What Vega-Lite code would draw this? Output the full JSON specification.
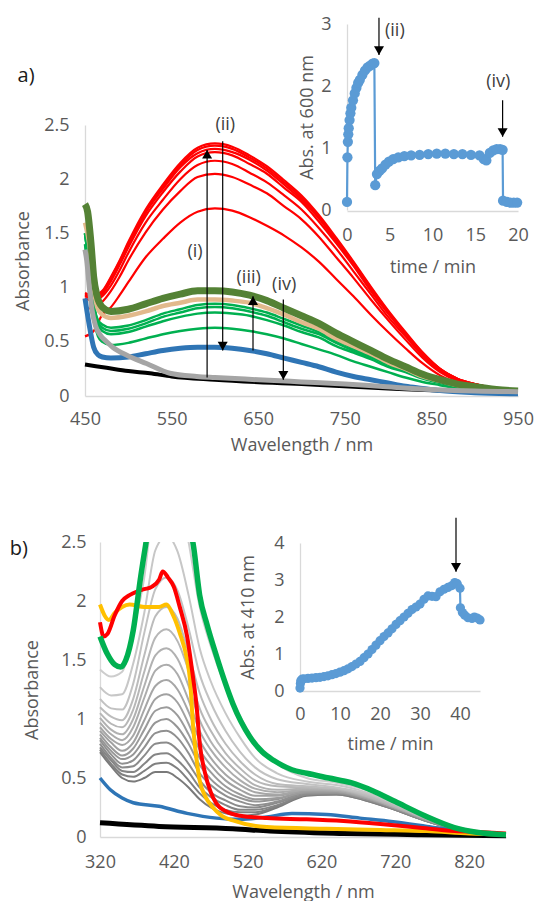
{
"$schema":"https://vega.github.io/schema/vega-lite/v6.json",
"padding":0,
"spacing":0,
"bounds":"flush",
"config":{
 "view":{"stroke":null},
 "font":"Open Sans",
 "axis":{"grid":false,"ticks":false,"tickSize":0,"domainColor":"#D9D9D9","domainWidth":1.3,"labelColor":"#595959","labelFontSize":18,"labelFont":"Open Sans","titleColor":"#595959","titleFontSize":18,"titleFont":"Open Sans","titleFontWeight":"normal","labelFlush":false,"labelOverlap":false}
},
"datasets":{
"a":[
{"s":"r1","w":450,"a":0.55},{"s":"r1","w":460,"a":0.6},{"s":"r1","w":470,"a":0.75},{"s":"r1","w":480,"a":0.82},{"s":"r1","w":490,"a":0.93},{"s":"r1","w":500,"a":1.05},{"s":"r1","w":520,"a":1.28},{"s":"r1","w":540,"a":1.45},{"s":"r1","w":560,"a":1.6},{"s":"r1","w":580,"a":1.7},{"s":"r1","w":600,"a":1.73},{"s":"r1","w":620,"a":1.71},{"s":"r1","w":640,"a":1.65},{"s":"r1","w":660,"a":1.57},{"s":"r1","w":680,"a":1.48},{"s":"r1","w":700,"a":1.37},{"s":"r1","w":720,"a":1.24},{"s":"r1","w":740,"a":1.08},{"s":"r1","w":760,"a":0.92},{"s":"r1","w":780,"a":0.75},{"s":"r1","w":800,"a":0.59},{"s":"r1","w":820,"a":0.44},{"s":"r1","w":840,"a":0.3},{"s":"r1","w":860,"a":0.19},{"s":"r1","w":880,"a":0.12},{"s":"r1","w":900,"a":0.08},{"s":"r1","w":925,"a":0.05},{"s":"r1","w":950,"a":0.04},
{"s":"r2","w":450,"a":0.8},{"s":"r2","w":460,"a":0.82},{"s":"r2","w":470,"a":0.87},{"s":"r2","w":480,"a":0.97},{"s":"r2","w":490,"a":1.1},{"s":"r2","w":500,"a":1.25},{"s":"r2","w":520,"a":1.51},{"s":"r2","w":540,"a":1.72},{"s":"r2","w":560,"a":1.89},{"s":"r2","w":580,"a":2.02},{"s":"r2","w":600,"a":2.05},{"s":"r2","w":620,"a":2.02},{"s":"r2","w":640,"a":1.95},{"s":"r2","w":660,"a":1.87},{"s":"r2","w":680,"a":1.75},{"s":"r2","w":700,"a":1.63},{"s":"r2","w":720,"a":1.47},{"s":"r2","w":740,"a":1.28},{"s":"r2","w":760,"a":1.09},{"s":"r2","w":780,"a":0.89},{"s":"r2","w":800,"a":0.7},{"s":"r2","w":820,"a":0.52},{"s":"r2","w":840,"a":0.35},{"s":"r2","w":860,"a":0.22},{"s":"r2","w":880,"a":0.14},{"s":"r2","w":900,"a":0.1},{"s":"r2","w":925,"a":0.06},{"s":"r2","w":950,"a":0.05},
{"s":"r3","w":450,"a":0.9},{"s":"r3","w":460,"a":0.88},{"s":"r3","w":470,"a":0.92},{"s":"r3","w":480,"a":1.02},{"s":"r3","w":490,"a":1.16},{"s":"r3","w":500,"a":1.32},{"s":"r3","w":520,"a":1.6},{"s":"r3","w":540,"a":1.81},{"s":"r3","w":560,"a":2.0},{"s":"r3","w":580,"a":2.13},{"s":"r3","w":600,"a":2.17},{"s":"r3","w":620,"a":2.14},{"s":"r3","w":640,"a":2.06},{"s":"r3","w":660,"a":1.97},{"s":"r3","w":680,"a":1.85},{"s":"r3","w":700,"a":1.72},{"s":"r3","w":720,"a":1.55},{"s":"r3","w":740,"a":1.36},{"s":"r3","w":760,"a":1.15},{"s":"r3","w":780,"a":0.94},{"s":"r3","w":800,"a":0.73},{"s":"r3","w":820,"a":0.55},{"s":"r3","w":840,"a":0.37},{"s":"r3","w":860,"a":0.23},{"s":"r3","w":880,"a":0.15},{"s":"r3","w":900,"a":0.1},{"s":"r3","w":925,"a":0.065},{"s":"r3","w":950,"a":0.05},
{"s":"r4","w":450,"a":0.92},{"s":"r4","w":460,"a":0.9},{"s":"r4","w":470,"a":0.94},{"s":"r4","w":480,"a":1.06},{"s":"r4","w":490,"a":1.21},{"s":"r4","w":500,"a":1.37},{"s":"r4","w":520,"a":1.66},{"s":"r4","w":540,"a":1.88},{"s":"r4","w":560,"a":2.07},{"s":"r4","w":580,"a":2.21},{"s":"r4","w":600,"a":2.25},{"s":"r4","w":620,"a":2.22},{"s":"r4","w":640,"a":2.14},{"s":"r4","w":660,"a":2.05},{"s":"r4","w":680,"a":1.92},{"s":"r4","w":700,"a":1.79},{"s":"r4","w":720,"a":1.61},{"s":"r4","w":740,"a":1.41},{"s":"r4","w":760,"a":1.2},{"s":"r4","w":780,"a":0.97},{"s":"r4","w":800,"a":0.76},{"s":"r4","w":820,"a":0.57},{"s":"r4","w":840,"a":0.39},{"s":"r4","w":860,"a":0.24},{"s":"r4","w":880,"a":0.15},{"s":"r4","w":900,"a":0.11},{"s":"r4","w":925,"a":0.07},{"s":"r4","w":950,"a":0.053},
{"s":"r5","w":450,"a":0.93},{"s":"r5","w":460,"a":0.91},{"s":"r5","w":470,"a":0.95},{"s":"r5","w":480,"a":1.08},{"s":"r5","w":490,"a":1.23},{"s":"r5","w":500,"a":1.39},{"s":"r5","w":520,"a":1.69},{"s":"r5","w":540,"a":1.91},{"s":"r5","w":560,"a":2.11},{"s":"r5","w":580,"a":2.24},{"s":"r5","w":600,"a":2.28},{"s":"r5","w":620,"a":2.25},{"s":"r5","w":640,"a":2.18},{"s":"r5","w":660,"a":2.08},{"s":"r5","w":680,"a":1.95},{"s":"r5","w":700,"a":1.81},{"s":"r5","w":720,"a":1.64},{"s":"r5","w":740,"a":1.43},{"s":"r5","w":760,"a":1.22},{"s":"r5","w":780,"a":0.99},{"s":"r5","w":800,"a":0.77},{"s":"r5","w":820,"a":0.58},{"s":"r5","w":840,"a":0.39},{"s":"r5","w":860,"a":0.25},{"s":"r5","w":880,"a":0.16},{"s":"r5","w":900,"a":0.11},{"s":"r5","w":925,"a":0.07},{"s":"r5","w":950,"a":0.054},
{"s":"r6","w":450,"a":0.94},{"s":"r6","w":460,"a":0.92},{"s":"r6","w":470,"a":0.96},{"s":"r6","w":480,"a":1.09},{"s":"r6","w":490,"a":1.24},{"s":"r6","w":500,"a":1.41},{"s":"r6","w":520,"a":1.7},{"s":"r6","w":540,"a":1.93},{"s":"r6","w":560,"a":2.13},{"s":"r6","w":580,"a":2.27},{"s":"r6","w":600,"a":2.31},{"s":"r6","w":620,"a":2.28},{"s":"r6","w":640,"a":2.2},{"s":"r6","w":660,"a":2.1},{"s":"r6","w":680,"a":1.97},{"s":"r6","w":700,"a":1.83},{"s":"r6","w":720,"a":1.65},{"s":"r6","w":740,"a":1.45},{"s":"r6","w":760,"a":1.23},{"s":"r6","w":780,"a":1.0},{"s":"r6","w":800,"a":0.78},{"s":"r6","w":820,"a":0.58},{"s":"r6","w":840,"a":0.4},{"s":"r6","w":860,"a":0.25},{"s":"r6","w":880,"a":0.16},{"s":"r6","w":900,"a":0.11},{"s":"r6","w":925,"a":0.07},{"s":"r6","w":950,"a":0.054},
{"s":"r7","w":450,"a":0.95},{"s":"r7","w":460,"a":0.93},{"s":"r7","w":470,"a":0.97},{"s":"r7","w":480,"a":1.1},{"s":"r7","w":490,"a":1.25},{"s":"r7","w":500,"a":1.42},{"s":"r7","w":520,"a":1.72},{"s":"r7","w":540,"a":1.95},{"s":"r7","w":560,"a":2.15},{"s":"r7","w":580,"a":2.29},{"s":"r7","w":600,"a":2.33},{"s":"r7","w":620,"a":2.3},{"s":"r7","w":640,"a":2.22},{"s":"r7","w":660,"a":2.12},{"s":"r7","w":680,"a":1.99},{"s":"r7","w":700,"a":1.85},{"s":"r7","w":720,"a":1.67},{"s":"r7","w":740,"a":1.46},{"s":"r7","w":760,"a":1.24},{"s":"r7","w":780,"a":1.01},{"s":"r7","w":800,"a":0.79},{"s":"r7","w":820,"a":0.59},{"s":"r7","w":840,"a":0.4},{"s":"r7","w":860,"a":0.25},{"s":"r7","w":880,"a":0.16},{"s":"r7","w":900,"a":0.11},{"s":"r7","w":925,"a":0.07},{"s":"r7","w":950,"a":0.055},
{"s":"k","w":450,"a":0.29},{"s":"k","w":475,"a":0.26},{"s":"k","w":500,"a":0.23},{"s":"k","w":525,"a":0.21},{"s":"k","w":550,"a":0.18},{"s":"k","w":600,"a":0.15},{"s":"k","w":700,"a":0.11},{"s":"k","w":800,"a":0.07},{"s":"k","w":950,"a":0.03},
{"s":"g4","w":450,"a":1.4},{"s":"g4","w":455,"a":1.0},{"s":"g4","w":460,"a":0.7},{"s":"g4","w":465,"a":0.55},{"s":"g4","w":470,"a":0.5},{"s":"g4","w":480,"a":0.47},{"s":"g4","w":500,"a":0.49},{"s":"g4","w":520,"a":0.53},{"s":"g4","w":540,"a":0.57},{"s":"g4","w":560,"a":0.6},{"s":"g4","w":580,"a":0.62},{"s":"g4","w":600,"a":0.63},{"s":"g4","w":620,"a":0.62},{"s":"g4","w":640,"a":0.6},{"s":"g4","w":660,"a":0.57},{"s":"g4","w":680,"a":0.53},{"s":"g4","w":700,"a":0.48},{"s":"g4","w":720,"a":0.43},{"s":"g4","w":740,"a":0.38},{"s":"g4","w":760,"a":0.32},{"s":"g4","w":780,"a":0.27},{"s":"g4","w":800,"a":0.22},{"s":"g4","w":820,"a":0.17},{"s":"g4","w":840,"a":0.13},{"s":"g4","w":860,"a":0.1},{"s":"g4","w":880,"a":0.07},{"s":"g4","w":900,"a":0.055},{"s":"g4","w":925,"a":0.04},{"s":"g4","w":950,"a":0.03},
{"s":"g3","w":450,"a":1.5},{"s":"g3","w":455,"a":1.2},{"s":"g3","w":460,"a":0.85},{"s":"g3","w":465,"a":0.66},{"s":"g3","w":470,"a":0.6},{"s":"g3","w":480,"a":0.57},{"s":"g3","w":500,"a":0.59},{"s":"g3","w":520,"a":0.64},{"s":"g3","w":540,"a":0.69},{"s":"g3","w":560,"a":0.73},{"s":"g3","w":580,"a":0.76},{"s":"g3","w":600,"a":0.77},{"s":"g3","w":620,"a":0.76},{"s":"g3","w":640,"a":0.74},{"s":"g3","w":660,"a":0.7},{"s":"g3","w":680,"a":0.65},{"s":"g3","w":700,"a":0.59},{"s":"g3","w":720,"a":0.54},{"s":"g3","w":740,"a":0.46},{"s":"g3","w":760,"a":0.4},{"s":"g3","w":780,"a":0.34},{"s":"g3","w":800,"a":0.27},{"s":"g3","w":820,"a":0.22},{"s":"g3","w":840,"a":0.16},{"s":"g3","w":860,"a":0.12},{"s":"g3","w":880,"a":0.09},{"s":"g3","w":900,"a":0.07},{"s":"g3","w":925,"a":0.045},{"s":"g3","w":950,"a":0.035},
{"s":"g2","w":450,"a":1.5},{"s":"g2","w":455,"a":1.2},{"s":"g2","w":460,"a":0.85},{"s":"g2","w":465,"a":0.68},{"s":"g2","w":470,"a":0.63},{"s":"g2","w":480,"a":0.6},{"s":"g2","w":500,"a":0.62},{"s":"g2","w":520,"a":0.67},{"s":"g2","w":540,"a":0.73},{"s":"g2","w":560,"a":0.77},{"s":"g2","w":580,"a":0.81},{"s":"g2","w":600,"a":0.82},{"s":"g2","w":620,"a":0.81},{"s":"g2","w":640,"a":0.78},{"s":"g2","w":660,"a":0.74},{"s":"g2","w":680,"a":0.68},{"s":"g2","w":700,"a":0.62},{"s":"g2","w":720,"a":0.57},{"s":"g2","w":740,"a":0.49},{"s":"g2","w":760,"a":0.42},{"s":"g2","w":780,"a":0.36},{"s":"g2","w":800,"a":0.29},{"s":"g2","w":820,"a":0.23},{"s":"g2","w":840,"a":0.17},{"s":"g2","w":860,"a":0.125},{"s":"g2","w":880,"a":0.095},{"s":"g2","w":900,"a":0.07},{"s":"g2","w":925,"a":0.05},{"s":"g2","w":950,"a":0.04},
{"s":"g1","w":450,"a":1.5},{"s":"g1","w":455,"a":1.2},{"s":"g1","w":460,"a":0.85},{"s":"g1","w":465,"a":0.7},{"s":"g1","w":470,"a":0.66},{"s":"g1","w":480,"a":0.63},{"s":"g1","w":500,"a":0.65},{"s":"g1","w":520,"a":0.7},{"s":"g1","w":540,"a":0.76},{"s":"g1","w":560,"a":0.8},{"s":"g1","w":580,"a":0.84},{"s":"g1","w":600,"a":0.85},{"s":"g1","w":620,"a":0.84},{"s":"g1","w":640,"a":0.81},{"s":"g1","w":660,"a":0.77},{"s":"g1","w":680,"a":0.71},{"s":"g1","w":700,"a":0.65},{"s":"g1","w":720,"a":0.59},{"s":"g1","w":740,"a":0.51},{"s":"g1","w":760,"a":0.44},{"s":"g1","w":780,"a":0.37},{"s":"g1","w":800,"a":0.3},{"s":"g1","w":820,"a":0.24},{"s":"g1","w":840,"a":0.18},{"s":"g1","w":860,"a":0.13},{"s":"g1","w":880,"a":0.1},{"s":"g1","w":900,"a":0.075},{"s":"g1","w":925,"a":0.05},{"s":"g1","w":950,"a":0.04},
{"s":"t","w":450,"a":1.6},{"s":"t","w":455,"a":1.4},{"s":"t","w":460,"a":1.0},{"s":"t","w":465,"a":0.8},{"s":"t","w":470,"a":0.75},{"s":"t","w":480,"a":0.72},{"s":"t","w":500,"a":0.74},{"s":"t","w":520,"a":0.78},{"s":"t","w":540,"a":0.83},{"s":"t","w":560,"a":0.86},{"s":"t","w":580,"a":0.89},{"s":"t","w":600,"a":0.89},{"s":"t","w":620,"a":0.88},{"s":"t","w":640,"a":0.86},{"s":"t","w":660,"a":0.81},{"s":"t","w":680,"a":0.75},{"s":"t","w":700,"a":0.68},{"s":"t","w":720,"a":0.62},{"s":"t","w":740,"a":0.53},{"s":"t","w":760,"a":0.46},{"s":"t","w":780,"a":0.39},{"s":"t","w":800,"a":0.31},{"s":"t","w":820,"a":0.25},{"s":"t","w":840,"a":0.18},{"s":"t","w":860,"a":0.14},{"s":"t","w":880,"a":0.1},{"s":"t","w":900,"a":0.08},{"s":"t","w":925,"a":0.055},{"s":"t","w":950,"a":0.04},
{"s":"d","w":450,"a":1.77},{"s":"d","w":453,"a":1.7},{"s":"d","w":457,"a":1.4},{"s":"d","w":460,"a":1.1},{"s":"d","w":464,"a":0.92},{"s":"d","w":470,"a":0.82},{"s":"d","w":480,"a":0.78},{"s":"d","w":500,"a":0.8},{"s":"d","w":520,"a":0.85},{"s":"d","w":540,"a":0.9},{"s":"d","w":560,"a":0.94},{"s":"d","w":580,"a":0.97},{"s":"d","w":600,"a":0.97},{"s":"d","w":620,"a":0.96},{"s":"d","w":640,"a":0.93},{"s":"d","w":660,"a":0.88},{"s":"d","w":680,"a":0.81},{"s":"d","w":700,"a":0.74},{"s":"d","w":720,"a":0.67},{"s":"d","w":740,"a":0.58},{"s":"d","w":760,"a":0.5},{"s":"d","w":780,"a":0.42},{"s":"d","w":800,"a":0.34},{"s":"d","w":820,"a":0.27},{"s":"d","w":840,"a":0.2},{"s":"d","w":860,"a":0.15},{"s":"d","w":880,"a":0.11},{"s":"d","w":900,"a":0.085},{"s":"d","w":925,"a":0.06},{"s":"d","w":950,"a":0.045},
{"s":"b","w":450,"a":0.9},{"s":"b","w":455,"a":0.65},{"s":"b","w":460,"a":0.45},{"s":"b","w":465,"a":0.38},{"s":"b","w":470,"a":0.36},{"s":"b","w":480,"a":0.35},{"s":"b","w":500,"a":0.36},{"s":"b","w":520,"a":0.39},{"s":"b","w":540,"a":0.42},{"s":"b","w":560,"a":0.44},{"s":"b","w":580,"a":0.45},{"s":"b","w":600,"a":0.45},{"s":"b","w":620,"a":0.44},{"s":"b","w":640,"a":0.42},{"s":"b","w":660,"a":0.39},{"s":"b","w":680,"a":0.35},{"s":"b","w":700,"a":0.31},{"s":"b","w":720,"a":0.27},{"s":"b","w":740,"a":0.22},{"s":"b","w":760,"a":0.18},{"s":"b","w":780,"a":0.15},{"s":"b","w":800,"a":0.12},{"s":"b","w":820,"a":0.09},{"s":"b","w":840,"a":0.07},{"s":"b","w":860,"a":0.05},{"s":"b","w":900,"a":0.03},{"s":"b","w":950,"a":0.02},
{"s":"y","w":450,"a":1.35},{"s":"y","w":452,"a":1.25},{"s":"y","w":455,"a":1.0},{"s":"y","w":458,"a":0.8},{"s":"y","w":462,"a":0.65},{"s":"y","w":467,"a":0.57},{"s":"y","w":475,"a":0.5},{"s":"y","w":482,"a":0.45},{"s":"y","w":500,"a":0.37},{"s":"y","w":521,"a":0.3},{"s":"y","w":548,"a":0.21},{"s":"y","w":579,"a":0.18},{"s":"y","w":600,"a":0.17},{"s":"y","w":650,"a":0.15},{"s":"y","w":675,"a":0.14},{"s":"y","w":700,"a":0.13},{"s":"y","w":750,"a":0.11},{"s":"y","w":790,"a":0.09},{"s":"y","w":850,"a":0.06},{"s":"y","w":900,"a":0.045},{"s":"y","w":950,"a":0.04}
],
"arA":[{"w":591,"a":0.17,"a2":2.27},{"w":609,"a":2.35,"a2":0.42},{"w":644,"a":0.42,"a2":0.92},{"w":679,"a":0.89,"a2":0.15}],
"hdA":[{"w":591,"a":2.23,"d":"up"},{"w":609,"a":0.46,"d":"down"},{"w":644,"a":0.88,"d":"up"},{"w":679,"a":0.19,"d":"down"}],
"txA":[{"txt":"(i)","w":577,"a":1.33},{"txt":"(ii)","w":612,"a":2.5},{"txt":"(iii)","w":639,"a":1.09},{"txt":"(iv)","w":680,"a":1.02}],
"labA":[{"txt":"a)","w":382,"a":2.95}],
"ia":[
{"t":0,"a":0.13},{"t":0.05,"a":0.85},{"t":0.1,"a":1.1},{"t":0.15,"a":1.22},{"t":0.2,"a":1.32},{"t":0.3,"a":1.45},{"t":0.4,"a":1.56},{"t":0.5,"a":1.65},{"t":0.7,"a":1.77},{"t":0.9,"a":1.88},{"t":1.1,"a":1.97},{"t":1.3,"a":2.05},{"t":1.5,"a":2.1},{"t":1.8,"a":2.18},{"t":2.1,"a":2.25},{"t":2.4,"a":2.3},{"t":2.7,"a":2.33},{"t":3.0,"a":2.36},{"t":3.2,"a":2.37},{"t":3.3,"a":0.4},{"t":3.5,"a":0.58},{"t":3.8,"a":0.63},{"t":4.1,"a":0.67},{"t":4.5,"a":0.73},{"t":4.9,"a":0.78},{"t":5.4,"a":0.82},{"t":6.0,"a":0.85},{"t":6.7,"a":0.87},{"t":7.5,"a":0.88},{"t":8.5,"a":0.89},{"t":9.5,"a":0.9},{"t":10.5,"a":0.91},{"t":11.5,"a":0.91},{"t":12.5,"a":0.9},{"t":13.5,"a":0.9},{"t":14.5,"a":0.89},{"t":15.5,"a":0.88},{"t":16.0,"a":0.82},{"t":16.3,"a":0.8},{"t":16.7,"a":0.92},{"t":17.1,"a":0.96},{"t":17.5,"a":0.98},{"t":17.9,"a":0.98},{"t":18.2,"a":0.97},{"t":18.25,"a":0.15},{"t":18.7,"a":0.13},{"t":19.1,"a":0.12},{"t":19.5,"a":0.12},{"t":19.9,"a":0.12}
],
"arI":[{"t":3.74,"a":3.1,"a2":2.5},{"t":18.2,"a":1.77,"a2":1.18}],
"hdI":[{"t":3.74,"a":2.57,"d":"down"},{"t":18.2,"a":1.25,"d":"down"}],
"txI":[{"txt":"(ii)","t":5.6,"a":2.89},{"txt":"(iv)","t":17.7,"a":2.07}],
"b":[
{"s":"g01","w":320,"a":0.72},{"s":"g01","w":335,"a":0.6},{"s":"g01","w":350,"a":0.5},{"s":"g01","w":365,"a":0.47},{"s":"g01","w":380,"a":0.5},{"s":"g01","w":395,"a":0.55},{"s":"g01","w":410,"a":0.55},{"s":"g01","w":425,"a":0.5},{"s":"g01","w":440,"a":0.42},{"s":"g01","w":455,"a":0.32},{"s":"g01","w":470,"a":0.25},{"s":"g01","w":490,"a":0.2},{"s":"g01","w":510,"a":0.18},{"s":"g01","w":530,"a":0.19},{"s":"g01","w":560,"a":0.25},{"s":"g01","w":600,"a":0.35},{"s":"g01","w":640,"a":0.36},{"s":"g01","w":680,"a":0.31},{"s":"g01","w":720,"a":0.23},{"s":"g01","w":760,"a":0.14},{"s":"g01","w":800,"a":0.07},{"s":"g01","w":840,"a":0.03},{"s":"g01","w":870,"a":0.02},
{"s":"g02","w":320,"a":0.74},{"s":"g02","w":335,"a":0.62},{"s":"g02","w":350,"a":0.53},{"s":"g02","w":365,"a":0.51},{"s":"g02","w":380,"a":0.56},{"s":"g02","w":395,"a":0.62},{"s":"g02","w":410,"a":0.63},{"s":"g02","w":425,"a":0.58},{"s":"g02","w":440,"a":0.48},{"s":"g02","w":455,"a":0.37},{"s":"g02","w":470,"a":0.29},{"s":"g02","w":490,"a":0.23},{"s":"g02","w":510,"a":0.21},{"s":"g02","w":530,"a":0.21},{"s":"g02","w":560,"a":0.26},{"s":"g02","w":600,"a":0.355},{"s":"g02","w":640,"a":0.36},{"s":"g02","w":680,"a":0.31},{"s":"g02","w":720,"a":0.23},{"s":"g02","w":760,"a":0.14},{"s":"g02","w":800,"a":0.07},{"s":"g02","w":840,"a":0.03},{"s":"g02","w":870,"a":0.02},
{"s":"g03","w":320,"a":0.76},{"s":"g03","w":335,"a":0.65},{"s":"g03","w":350,"a":0.56},{"s":"g03","w":365,"a":0.55},{"s":"g03","w":380,"a":0.62},{"s":"g03","w":395,"a":0.7},{"s":"g03","w":410,"a":0.71},{"s":"g03","w":425,"a":0.65},{"s":"g03","w":440,"a":0.55},{"s":"g03","w":455,"a":0.42},{"s":"g03","w":470,"a":0.34},{"s":"g03","w":490,"a":0.27},{"s":"g03","w":510,"a":0.23},{"s":"g03","w":530,"a":0.23},{"s":"g03","w":560,"a":0.27},{"s":"g03","w":600,"a":0.36},{"s":"g03","w":640,"a":0.37},{"s":"g03","w":680,"a":0.32},{"s":"g03","w":720,"a":0.23},{"s":"g03","w":760,"a":0.14},{"s":"g03","w":800,"a":0.07},{"s":"g03","w":840,"a":0.03},{"s":"g03","w":870,"a":0.02},
{"s":"g04","w":320,"a":0.79},{"s":"g04","w":335,"a":0.67},{"s":"g04","w":350,"a":0.59},{"s":"g04","w":365,"a":0.6},{"s":"g04","w":380,"a":0.69},{"s":"g04","w":395,"a":0.79},{"s":"g04","w":410,"a":0.8},{"s":"g04","w":425,"a":0.74},{"s":"g04","w":440,"a":0.62},{"s":"g04","w":455,"a":0.48},{"s":"g04","w":470,"a":0.38},{"s":"g04","w":490,"a":0.31},{"s":"g04","w":510,"a":0.26},{"s":"g04","w":530,"a":0.25},{"s":"g04","w":560,"a":0.29},{"s":"g04","w":600,"a":0.36},{"s":"g04","w":640,"a":0.37},{"s":"g04","w":680,"a":0.32},{"s":"g04","w":720,"a":0.24},{"s":"g04","w":760,"a":0.14},{"s":"g04","w":800,"a":0.07},{"s":"g04","w":840,"a":0.03},{"s":"g04","w":870,"a":0.02},
{"s":"g05","w":320,"a":0.82},{"s":"g05","w":335,"a":0.7},{"s":"g05","w":350,"a":0.62},{"s":"g05","w":365,"a":0.65},{"s":"g05","w":380,"a":0.76},{"s":"g05","w":395,"a":0.88},{"s":"g05","w":410,"a":0.9},{"s":"g05","w":425,"a":0.84},{"s":"g05","w":440,"a":0.71},{"s":"g05","w":455,"a":0.54},{"s":"g05","w":470,"a":0.44},{"s":"g05","w":490,"a":0.35},{"s":"g05","w":510,"a":0.3},{"s":"g05","w":530,"a":0.27},{"s":"g05","w":560,"a":0.3},{"s":"g05","w":600,"a":0.37},{"s":"g05","w":640,"a":0.37},{"s":"g05","w":680,"a":0.32},{"s":"g05","w":720,"a":0.24},{"s":"g05","w":760,"a":0.15},{"s":"g05","w":800,"a":0.07},{"s":"g05","w":840,"a":0.03},{"s":"g05","w":870,"a":0.02},
{"s":"g06","w":320,"a":0.84},{"s":"g06","w":335,"a":0.73},{"s":"g06","w":350,"a":0.66},{"s":"g06","w":365,"a":0.7},{"s":"g06","w":380,"a":0.83},{"s":"g06","w":395,"a":0.97},{"s":"g06","w":410,"a":1.0},{"s":"g06","w":425,"a":0.93},{"s":"g06","w":440,"a":0.79},{"s":"g06","w":455,"a":0.61},{"s":"g06","w":470,"a":0.49},{"s":"g06","w":490,"a":0.39},{"s":"g06","w":510,"a":0.33},{"s":"g06","w":530,"a":0.3},{"s":"g06","w":560,"a":0.32},{"s":"g06","w":600,"a":0.38},{"s":"g06","w":640,"a":0.38},{"s":"g06","w":680,"a":0.33},{"s":"g06","w":720,"a":0.24},{"s":"g06","w":760,"a":0.15},{"s":"g06","w":800,"a":0.07},{"s":"g06","w":840,"a":0.03},{"s":"g06","w":870,"a":0.02},
{"s":"g07","w":320,"a":0.87},{"s":"g07","w":335,"a":0.76},{"s":"g07","w":350,"a":0.69},{"s":"g07","w":365,"a":0.75},{"s":"g07","w":380,"a":0.91},{"s":"g07","w":395,"a":1.07},{"s":"g07","w":410,"a":1.1},{"s":"g07","w":425,"a":1.03},{"s":"g07","w":440,"a":0.87},{"s":"g07","w":455,"a":0.67},{"s":"g07","w":470,"a":0.55},{"s":"g07","w":490,"a":0.43},{"s":"g07","w":510,"a":0.36},{"s":"g07","w":530,"a":0.32},{"s":"g07","w":560,"a":0.33},{"s":"g07","w":600,"a":0.38},{"s":"g07","w":640,"a":0.38},{"s":"g07","w":680,"a":0.33},{"s":"g07","w":720,"a":0.25},{"s":"g07","w":760,"a":0.15},{"s":"g07","w":800,"a":0.07},{"s":"g07","w":840,"a":0.03},{"s":"g07","w":870,"a":0.02},
{"s":"g08","w":320,"a":0.9},{"s":"g08","w":335,"a":0.8},{"s":"g08","w":350,"a":0.73},{"s":"g08","w":365,"a":0.8},{"s":"g08","w":380,"a":0.99},{"s":"g08","w":395,"a":1.17},{"s":"g08","w":410,"a":1.21},{"s":"g08","w":425,"a":1.14},{"s":"g08","w":440,"a":0.96},{"s":"g08","w":455,"a":0.74},{"s":"g08","w":470,"a":0.61},{"s":"g08","w":490,"a":0.48},{"s":"g08","w":510,"a":0.4},{"s":"g08","w":530,"a":0.35},{"s":"g08","w":560,"a":0.35},{"s":"g08","w":600,"a":0.39},{"s":"g08","w":640,"a":0.39},{"s":"g08","w":680,"a":0.33},{"s":"g08","w":720,"a":0.25},{"s":"g08","w":760,"a":0.15},{"s":"g08","w":800,"a":0.08},{"s":"g08","w":840,"a":0.03},{"s":"g08","w":870,"a":0.02},
{"s":"g09","w":320,"a":0.93},{"s":"g09","w":335,"a":0.83},{"s":"g09","w":350,"a":0.78},{"s":"g09","w":365,"a":0.86},{"s":"g09","w":380,"a":1.08},{"s":"g09","w":395,"a":1.28},{"s":"g09","w":410,"a":1.33},{"s":"g09","w":425,"a":1.25},{"s":"g09","w":440,"a":1.06},{"s":"g09","w":455,"a":0.82},{"s":"g09","w":470,"a":0.67},{"s":"g09","w":490,"a":0.53},{"s":"g09","w":510,"a":0.44},{"s":"g09","w":530,"a":0.38},{"s":"g09","w":560,"a":0.36},{"s":"g09","w":600,"a":0.4},{"s":"g09","w":640,"a":0.39},{"s":"g09","w":680,"a":0.34},{"s":"g09","w":720,"a":0.25},{"s":"g09","w":760,"a":0.16},{"s":"g09","w":800,"a":0.08},{"s":"g09","w":840,"a":0.03},{"s":"g09","w":870,"a":0.02},
{"s":"g10","w":320,"a":0.97},{"s":"g10","w":335,"a":0.87},{"s":"g10","w":350,"a":0.82},{"s":"g10","w":365,"a":0.93},{"s":"g10","w":380,"a":1.18},{"s":"g10","w":395,"a":1.41},{"s":"g10","w":410,"a":1.46},{"s":"g10","w":425,"a":1.38},{"s":"g10","w":440,"a":1.16},{"s":"g10","w":455,"a":0.9},{"s":"g10","w":470,"a":0.74},{"s":"g10","w":490,"a":0.59},{"s":"g10","w":510,"a":0.48},{"s":"g10","w":530,"a":0.41},{"s":"g10","w":560,"a":0.38},{"s":"g10","w":600,"a":0.4},{"s":"g10","w":640,"a":0.4},{"s":"g10","w":680,"a":0.34},{"s":"g10","w":720,"a":0.25},{"s":"g10","w":760,"a":0.16},{"s":"g10","w":800,"a":0.08},{"s":"g10","w":840,"a":0.03},{"s":"g10","w":870,"a":0.02},
{"s":"g11","w":320,"a":1.01},{"s":"g11","w":335,"a":0.91},{"s":"g11","w":350,"a":0.87},{"s":"g11","w":365,"a":1.0},{"s":"g11","w":380,"a":1.28},{"s":"g11","w":395,"a":1.54},{"s":"g11","w":410,"a":1.6},{"s":"g11","w":425,"a":1.51},{"s":"g11","w":440,"a":1.28},{"s":"g11","w":455,"a":0.99},{"s":"g11","w":470,"a":0.81},{"s":"g11","w":490,"a":0.65},{"s":"g11","w":510,"a":0.53},{"s":"g11","w":530,"a":0.44},{"s":"g11","w":560,"a":0.4},{"s":"g11","w":600,"a":0.41},{"s":"g11","w":640,"a":0.4},{"s":"g11","w":680,"a":0.35},{"s":"g11","w":720,"a":0.26},{"s":"g11","w":760,"a":0.16},{"s":"g11","w":800,"a":0.08},{"s":"g11","w":840,"a":0.03},{"s":"g11","w":870,"a":0.02},
{"s":"g12","w":320,"a":1.05},{"s":"g12","w":335,"a":0.96},{"s":"g12","w":350,"a":0.93},{"s":"g12","w":365,"a":1.08},{"s":"g12","w":380,"a":1.4},{"s":"g12","w":395,"a":1.69},{"s":"g12","w":410,"a":1.76},{"s":"g12","w":425,"a":1.66},{"s":"g12","w":440,"a":1.41},{"s":"g12","w":455,"a":1.09},{"s":"g12","w":470,"a":0.9},{"s":"g12","w":490,"a":0.71},{"s":"g12","w":510,"a":0.58},{"s":"g12","w":530,"a":0.48},{"s":"g12","w":560,"a":0.43},{"s":"g12","w":600,"a":0.42},{"s":"g12","w":640,"a":0.41},{"s":"g12","w":680,"a":0.35},{"s":"g12","w":720,"a":0.26},{"s":"g12","w":760,"a":0.16},{"s":"g12","w":800,"a":0.08},{"s":"g12","w":840,"a":0.03},{"s":"g12","w":870,"a":0.02},
{"s":"g13","w":320,"a":1.1},{"s":"g13","w":335,"a":1.02},{"s":"g13","w":350,"a":0.99},{"s":"g13","w":365,"a":1.17},{"s":"g13","w":380,"a":1.54},{"s":"g13","w":395,"a":1.87},{"s":"g13","w":410,"a":1.95},{"s":"g13","w":425,"a":1.85},{"s":"g13","w":440,"a":1.56},{"s":"g13","w":455,"a":1.22},{"s":"g13","w":470,"a":1.0},{"s":"g13","w":490,"a":0.79},{"s":"g13","w":510,"a":0.64},{"s":"g13","w":530,"a":0.53},{"s":"g13","w":560,"a":0.45},{"s":"g13","w":600,"a":0.43},{"s":"g13","w":640,"a":0.41},{"s":"g13","w":680,"a":0.36},{"s":"g13","w":720,"a":0.27},{"s":"g13","w":760,"a":0.17},{"s":"g13","w":800,"a":0.08},{"s":"g13","w":840,"a":0.04},{"s":"g13","w":870,"a":0.02},
{"s":"g14","w":320,"a":1.17},{"s":"g14","w":335,"a":1.09},{"s":"g14","w":350,"a":1.08},{"s":"g14","w":365,"a":1.3},{"s":"g14","w":380,"a":1.73},{"s":"g14","w":395,"a":2.1},{"s":"g14","w":410,"a":2.2},{"s":"g14","w":425,"a":2.09},{"s":"g14","w":440,"a":1.77},{"s":"g14","w":455,"a":1.38},{"s":"g14","w":470,"a":1.14},{"s":"g14","w":490,"a":0.9},{"s":"g14","w":510,"a":0.72},{"s":"g14","w":530,"a":0.59},{"s":"g14","w":560,"a":0.49},{"s":"g14","w":600,"a":0.45},{"s":"g14","w":640,"a":0.42},{"s":"g14","w":680,"a":0.37},{"s":"g14","w":720,"a":0.28},{"s":"g14","w":760,"a":0.17},{"s":"g14","w":800,"a":0.08},{"s":"g14","w":840,"a":0.04},{"s":"g14","w":870,"a":0.02},
{"s":"g15","w":320,"a":1.27},{"s":"g15","w":335,"a":1.2},{"s":"g15","w":350,"a":1.21},{"s":"g15","w":365,"a":1.47},{"s":"g15","w":380,"a":1.9},{"s":"g15","w":395,"a":2.43},{"s":"g15","w":410,"a":2.55},{"s":"g15","w":425,"a":2.42},{"s":"g15","w":440,"a":2.05},{"s":"g15","w":455,"a":1.6},{"s":"g15","w":470,"a":1.32},{"s":"g15","w":490,"a":1.05},{"s":"g15","w":510,"a":0.84},{"s":"g15","w":530,"a":0.67},{"s":"g15","w":560,"a":0.54},{"s":"g15","w":600,"a":0.47},{"s":"g15","w":640,"a":0.44},{"s":"g15","w":680,"a":0.38},{"s":"g15","w":720,"a":0.28},{"s":"g15","w":760,"a":0.18},{"s":"g15","w":800,"a":0.09},{"s":"g15","w":840,"a":0.04},{"s":"g15","w":870,"a":0.02},
{"s":"g16","w":320,"a":1.42},{"s":"g16","w":335,"a":1.36},{"s":"g16","w":350,"a":1.4},{"s":"g16","w":365,"a":1.75},{"s":"g16","w":380,"a":2.2},{"s":"g16","w":395,"a":2.95},{"s":"g16","w":410,"a":3.1},{"s":"g16","w":425,"a":2.95},{"s":"g16","w":440,"a":2.5},{"s":"g16","w":455,"a":1.95},{"s":"g16","w":470,"a":1.62},{"s":"g16","w":490,"a":1.28},{"s":"g16","w":510,"a":1.02},{"s":"g16","w":530,"a":0.8},{"s":"g16","w":560,"a":0.62},{"s":"g16","w":600,"a":0.5},{"s":"g16","w":640,"a":0.46},{"s":"g16","w":680,"a":0.4},{"s":"g16","w":720,"a":0.3},{"s":"g16","w":760,"a":0.19},{"s":"g16","w":800,"a":0.09},{"s":"g16","w":840,"a":0.04},{"s":"g16","w":870,"a":0.02},
{"s":"bk","w":320,"a":0.12},{"s":"bk","w":400,"a":0.09},{"s":"bk","w":500,"a":0.07},{"s":"bk","w":550,"a":0.05},{"s":"bk","w":650,"a":0.03},{"s":"bk","w":750,"a":0.02},{"s":"bk","w":870,"a":0.01},
{"s":"bl","w":320,"a":0.5},{"s":"bl","w":334,"a":0.4},{"s":"bl","w":350,"a":0.33},{"s":"bl","w":365,"a":0.29},{"s":"bl","w":400,"a":0.26},{"s":"bl","w":438,"a":0.2},{"s":"bl","w":478,"a":0.16},{"s":"bl","w":510,"a":0.15},{"s":"bl","w":546,"a":0.17},{"s":"bl","w":580,"a":0.2},{"s":"bl","w":627,"a":0.19},{"s":"bl","w":672,"a":0.16},{"s":"bl","w":717,"a":0.13},{"s":"bl","w":763,"a":0.09},{"s":"bl","w":808,"a":0.05},{"s":"bl","w":870,"a":0.02},
{"s":"ye","w":320,"a":1.97},{"s":"ye","w":326,"a":1.88},{"s":"ye","w":332,"a":1.84},{"s":"ye","w":340,"a":1.9},{"s":"ye","w":350,"a":1.95},{"s":"ye","w":360,"a":1.97},{"s":"ye","w":380,"a":1.95},{"s":"ye","w":400,"a":1.95},{"s":"ye","w":410,"a":1.97},{"s":"ye","w":419,"a":1.88},{"s":"ye","w":428,"a":1.73},{"s":"ye","w":438,"a":1.5},{"s":"ye","w":442,"a":1.33},{"s":"ye","w":446,"a":0.95},{"s":"ye","w":450,"a":0.7},{"s":"ye","w":455,"a":0.48},{"s":"ye","w":463,"a":0.34},{"s":"ye","w":473,"a":0.25},{"s":"ye","w":485,"a":0.18},{"s":"ye","w":500,"a":0.14},{"s":"ye","w":546,"a":0.085},{"s":"ye","w":627,"a":0.07},{"s":"ye","w":700,"a":0.06},{"s":"ye","w":763,"a":0.05},{"s":"ye","w":820,"a":0.03},{"s":"ye","w":870,"a":0.02},
{"s":"re","w":320,"a":1.82},{"s":"re","w":325,"a":1.7},{"s":"re","w":330,"a":1.72},{"s":"re","w":340,"a":1.88},{"s":"re","w":350,"a":2.0},{"s":"re","w":360,"a":2.05},{"s":"re","w":370,"a":2.08},{"s":"re","w":380,"a":2.1},{"s":"re","w":390,"a":2.12},{"s":"re","w":400,"a":2.18},{"s":"re","w":405,"a":2.25},{"s":"re","w":412,"a":2.2},{"s":"re","w":420,"a":2.12},{"s":"re","w":428,"a":1.95},{"s":"re","w":438,"a":1.7},{"s":"re","w":445,"a":1.4},{"s":"re","w":451,"a":1.1},{"s":"re","w":455,"a":0.8},{"s":"re","w":462,"a":0.55},{"s":"re","w":470,"a":0.38},{"s":"re","w":478,"a":0.28},{"s":"re","w":490,"a":0.22},{"s":"re","w":510,"a":0.18},{"s":"re","w":546,"a":0.16},{"s":"re","w":600,"a":0.15},{"s":"re","w":650,"a":0.135},{"s":"re","w":700,"a":0.11},{"s":"re","w":750,"a":0.08},{"s":"re","w":800,"a":0.05},{"s":"re","w":840,"a":0.04},{"s":"re","w":870,"a":0.03},
{"s":"gr","w":320,"a":1.7},{"s":"gr","w":330,"a":1.55},{"s":"gr","w":340,"a":1.46},{"s":"gr","w":348,"a":1.44},{"s":"gr","w":355,"a":1.5},{"s":"gr","w":365,"a":1.75},{"s":"gr","w":375,"a":2.2},{"s":"gr","w":385,"a":2.6},{"s":"gr","w":395,"a":3.0},{"s":"gr","w":420,"a":3.5},{"s":"gr","w":440,"a":2.7},{"s":"gr","w":447,"a":2.45},{"s":"gr","w":455,"a":2.05},{"s":"gr","w":465,"a":1.8},{"s":"gr","w":478,"a":1.53},{"s":"gr","w":490,"a":1.3},{"s":"gr","w":500,"a":1.13},{"s":"gr","w":523,"a":0.85},{"s":"gr","w":540,"a":0.72},{"s":"gr","w":555,"a":0.65},{"s":"gr","w":580,"a":0.57},{"s":"gr","w":600,"a":0.54},{"s":"gr","w":630,"a":0.5},{"s":"gr","w":660,"a":0.46},{"s":"gr","w":690,"a":0.39},{"s":"gr","w":720,"a":0.3},{"s":"gr","w":760,"a":0.18},{"s":"gr","w":800,"a":0.08},{"s":"gr","w":830,"a":0.04},{"s":"gr","w":870,"a":0.02}
],
"labB":[{"txt":"b)","w":210,"a":2.44}],
"ib":[
{"t":0,"a":0.08},{"t":0.1,"a":0.2},{"t":0.2,"a":0.28},{"t":0.5,"a":0.32},{"t":1,"a":0.33},{"t":2,"a":0.34},{"t":3,"a":0.35},{"t":4,"a":0.36},{"t":5,"a":0.37},{"t":6,"a":0.39},{"t":7,"a":0.41},{"t":8,"a":0.44},{"t":9,"a":0.47},{"t":10,"a":0.51},{"t":11,"a":0.55},{"t":12,"a":0.6},{"t":13,"a":0.66},{"t":14,"a":0.73},{"t":15,"a":0.8},{"t":16,"a":0.9},{"t":17,"a":1.0},{"t":18,"a":1.12},{"t":19,"a":1.24},{"t":20,"a":1.36},{"t":21,"a":1.47},{"t":22,"a":1.57},{"t":23,"a":1.68},{"t":24,"a":1.8},{"t":25,"a":1.9},{"t":26,"a":2.0},{"t":27,"a":2.1},{"t":28,"a":2.2},{"t":29,"a":2.27},{"t":30,"a":2.35},{"t":31,"a":2.48},{"t":32,"a":2.57},{"t":33,"a":2.56},{"t":34,"a":2.55},{"t":35,"a":2.68},{"t":36,"a":2.75},{"t":37,"a":2.8},{"t":38,"a":2.85},{"t":38.7,"a":2.93},{"t":39.3,"a":2.9},{"t":40,"a":2.78},{"t":40.1,"a":2.25},{"t":40.6,"a":2.12},{"t":41.2,"a":2.05},{"t":42,"a":1.98},{"t":43,"a":1.96},{"t":43.6,"a":2.0},{"t":44.3,"a":1.97},{"t":45,"a":1.92}
],
"arB":[{"t":39,"a":4.68,"a2":3.22}],
"hdB":[{"t":39,"a":3.34,"d":"down"}]
},
"vconcat":[
{
 "width":536,"height":542,
 "resolve":{"scale":{"x":"independent","y":"independent"},"axis":{"x":"independent","y":"independent"}},
 "layer":[
  {
   "encoding":{
    "x":{"field":"w","type":"quantitative","scale":{"domain":[450,950],"range":[85,518],"nice":false,"zero":false},"axis":{"orient":"bottom","offset":-146,"values":[450,550,650,750,850,950],"labelPadding":14,"title":"Wavelength / nm","titleY":49,"titleBaseline":"middle"}},
    "y":{"field":"a","type":"quantitative","scale":{"domain":[0,2.5],"range":[396,125],"nice":false},"axis":{"orient":"left","offset":-85,"values":[0,0.5,1,1.5,2,2.5],"format":"~g","labelPadding":16,"title":"Absorbance","titleX":-62,"titleBaseline":"middle"}}
   },
   "layer":[
    {"data":{"name":"a"},"transform":[{"filter":{"field":"s","oneOf":["r1","r2","r3","r4","r5","r6","r7"]}}],"mark":{"type":"line","color":"#FF0000","strokeWidth":2.2,"interpolate":"monotone"},"encoding":{"detail":{"field":"s","type":"nominal"}}},
    {"data":{"name":"a"},"transform":[{"filter":{"field":"s","equal":"k"}}],"mark":{"type":"line","color":"#000000","strokeWidth":4,"interpolate":"monotone"},"encoding":{"detail":{"field":"s","type":"nominal"}}},
    {"data":{"name":"a"},"transform":[{"filter":{"field":"s","oneOf":["g4","g3","g2","g1"]}}],"mark":{"type":"line","color":"#00B050","strokeWidth":2.5,"interpolate":"monotone"},"encoding":{"detail":{"field":"s","type":"nominal"}}},
    {"data":{"name":"a"},"transform":[{"filter":{"field":"s","equal":"t"}}],"mark":{"type":"line","color":"#E2B98C","strokeWidth":4.5,"interpolate":"monotone"},"encoding":{"detail":{"field":"s","type":"nominal"}}},
    {"data":{"name":"a"},"transform":[{"filter":{"field":"s","equal":"d"}}],"mark":{"type":"line","color":"#548235","strokeWidth":7,"interpolate":"monotone"},"encoding":{"detail":{"field":"s","type":"nominal"}}},
    {"data":{"name":"a"},"transform":[{"filter":{"field":"s","equal":"b"}}],"mark":{"type":"line","color":"#2F75B5","strokeWidth":5,"interpolate":"monotone"},"encoding":{"detail":{"field":"s","type":"nominal"}}},
    {"data":{"name":"a"},"transform":[{"filter":{"field":"s","equal":"y"}}],"mark":{"type":"line","color":"#A5A5A5","strokeWidth":5,"interpolate":"monotone"},"encoding":{"detail":{"field":"s","type":"nominal"}}},
    {"data":{"name":"arA"},"mark":{"type":"rule","color":"#000000","strokeWidth":1.2},"encoding":{"y2":{"field":"a2"}}},
    {"data":{"name":"hdA"},"mark":{"type":"point","filled":true,"color":"#000000","opacity":1,"size":100},"encoding":{"shape":{"field":"d","type":"nominal","scale":{"domain":["up","down"],"range":["triangle-up","triangle-down"]},"legend":null}}},
    {"data":{"name":"txA"},"mark":{"type":"text","fontSize":18,"color":"#404040","font":"Open Sans"},"encoding":{"text":{"field":"txt","type":"nominal"}}},
    {"data":{"name":"labA"},"mark":{"type":"text","fontSize":20,"color":"#1A1A1A","font":"Open Sans"},"encoding":{"text":{"field":"txt","type":"nominal"}}}
   ]
  },
  {
   "encoding":{
    "x":{"field":"t","type":"quantitative","scale":{"domain":[0,20],"range":[347,518],"nice":false,"zero":false},"axis":{"orient":"bottom","offset":-331,"values":[0,5,10,15,20],"labelPadding":15,"title":"time / min","titleY":56,"titleBaseline":"middle"}},
    "y":{"field":"a","type":"quantitative","scale":{"domain":[0,3],"range":[210,24],"nice":false},"axis":{"orient":"left","offset":-347,"values":[0,1,2,3],"labelPadding":16,"title":"Abs. at 600 nm","titleX":-40,"titleBaseline":"middle"}}
   },
   "layer":[
    {"data":{"name":"ia"},"mark":{"type":"line","color":"#5B9BD5","strokeWidth":2.2},"encoding":{}},
    {"data":{"name":"ia"},"mark":{"type":"circle","color":"#5B9BD5","opacity":1,"size":105},"encoding":{}},
    {"data":{"name":"arI"},"mark":{"type":"rule","color":"#000000","strokeWidth":1.2},"encoding":{"y2":{"field":"a2"}}},
    {"data":{"name":"hdI"},"mark":{"type":"point","filled":true,"color":"#000000","opacity":1,"size":100},"encoding":{"shape":{"field":"d","type":"nominal","scale":{"domain":["up","down"],"range":["triangle-up","triangle-down"]},"legend":null}}},
    {"data":{"name":"txI"},"mark":{"type":"text","fontSize":18,"color":"#404040","font":"Open Sans"},"encoding":{"text":{"field":"txt","type":"nominal"}}}
   ]
  }
 ]
},
{
 "width":536,"height":359,
 "resolve":{"scale":{"x":"independent","y":"independent"},"axis":{"x":"independent","y":"independent"}},
 "layer":[
  {
   "encoding":{
    "x":{"field":"w","type":"quantitative","scale":{"domain":[320,870],"range":[100,506],"nice":false,"zero":false},"axis":{"orient":"bottom","offset":-64,"values":[320,420,520,620,720,820],"labelPadding":16,"title":"Wavelength / nm","titleY":55,"titleBaseline":"middle"}},
    "y":{"field":"a","type":"quantitative","scale":{"domain":[0,2.5],"range":[295,0],"nice":false},"axis":{"orient":"left","offset":-100,"values":[0,0.5,1,1.5,2,2.5],"format":"~g","labelPadding":14,"title":"Absorbance","titleX":-68,"titleBaseline":"middle"}}
   },
   "layer":[
    {"data":{"name":"b"},"transform":[{"filter":{"field":"s","oneOf":["g01","g02","g03","g04","g05","g06","g07","g08","g09","g10","g11","g12","g13","g14","g15","g16"]}}],"mark":{"type":"line","strokeWidth":2,"interpolate":"monotone","clip":true},"encoding":{"color":{"field":"s","type":"nominal","legend":null,"scale":{"domain":["g01","g02","g03","g04","g05","g06","g07","g08","g09","g10","g11","g12","g13","g14","g15","g16"],"range":["#7A7A7A","#808080","#858585","#8B8B8B","#909090","#969696","#9B9B9B","#A1A1A1","#A6A6A6","#ACACAC","#B1B1B1","#B7B7B7","#BCBCBC","#C2C2C2","#C7C7C7","#CDCDCD"]}}}},
    {"data":{"name":"b"},"transform":[{"filter":{"field":"s","equal":"bk"}}],"mark":{"type":"line","color":"#000000","strokeWidth":5,"interpolate":"monotone","clip":true},"encoding":{"detail":{"field":"s","type":"nominal"}}},
    {"data":{"name":"b"},"transform":[{"filter":{"field":"s","equal":"bl"}}],"mark":{"type":"line","color":"#2E75B6","strokeWidth":3.5,"interpolate":"monotone","clip":true},"encoding":{"detail":{"field":"s","type":"nominal"}}},
    {"data":{"name":"b"},"transform":[{"filter":{"field":"s","equal":"ye"}}],"mark":{"type":"line","color":"#FFC000","strokeWidth":4,"interpolate":"monotone","clip":true},"encoding":{"detail":{"field":"s","type":"nominal"}}},
    {"data":{"name":"b"},"transform":[{"filter":{"field":"s","equal":"re"}}],"mark":{"type":"line","color":"#FF0000","strokeWidth":4,"interpolate":"monotone","clip":true},"encoding":{"detail":{"field":"s","type":"nominal"}}},
    {"data":{"name":"b"},"transform":[{"filter":{"field":"s","equal":"gr"}}],"mark":{"type":"line","color":"#00B050","strokeWidth":5.5,"interpolate":"monotone","clip":true},"encoding":{"detail":{"field":"s","type":"nominal"}}},
    {"data":{"name":"labB"},"mark":{"type":"text","fontSize":20,"color":"#1A1A1A","font":"Open Sans"},"encoding":{"text":{"field":"txt","type":"nominal"}}}
   ]
  },
  {
   "encoding":{
    "x":{"field":"t","type":"quantitative","scale":{"domain":[0,45],"range":[300,480],"nice":false,"zero":false},"axis":{"orient":"bottom","offset":-210,"values":[0,10,20,30,40],"labelPadding":14,"title":"time / min","titleY":53,"titleBaseline":"middle"}},
    "y":{"field":"a","type":"quantitative","scale":{"domain":[0,4],"range":[149,1],"nice":false},"axis":{"orient":"left","offset":-300,"values":[0,1,2,3,4],"labelPadding":16,"title":"Abs. at 410 nm","titleX":-52,"titleBaseline":"middle"}}
   },
   "layer":[
    {"data":{"name":"ib"},"mark":{"type":"line","color":"#5B9BD5","strokeWidth":2.2},"encoding":{}},
    {"data":{"name":"ib"},"mark":{"type":"circle","color":"#5B9BD5","opacity":1,"size":85},"encoding":{}},
    {"data":{"name":"arB"},"mark":{"type":"rule","color":"#000000","strokeWidth":1.2},"encoding":{"y2":{"field":"a2"}}},
    {"data":{"name":"hdB"},"mark":{"type":"point","filled":true,"color":"#000000","opacity":1,"size":100},"encoding":{"shape":{"field":"d","type":"nominal","scale":{"domain":["up","down"],"range":["triangle-up","triangle-down"]},"legend":null}}}
   ]
  }
 ]
}
]
}
